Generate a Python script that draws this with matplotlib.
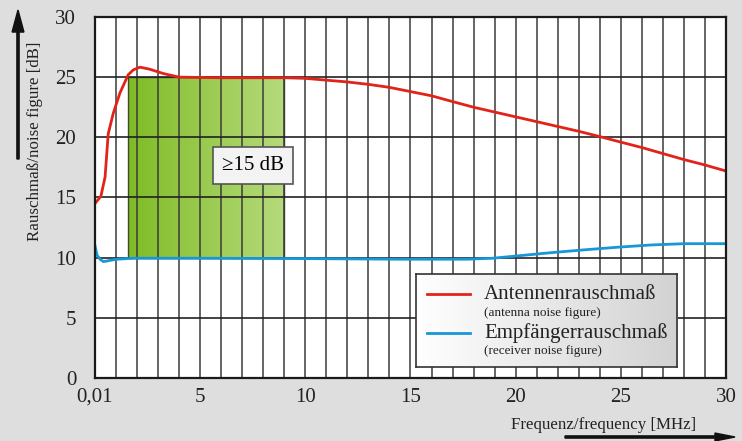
import numpy as np
import matplotlib
matplotlib.use('Agg')
import matplotlib.pyplot as plt
from matplotlib.colors import LinearSegmentedColormap
from matplotlib.patches import Rectangle

plt.rcParams['font.family'] = ['Liberation Serif', 'DejaVu Serif']

##### data
# antenna noise figure (red)
ant_f = [0, 0.28, 0.48, 0.63, 0.87, 1.19, 1.58, 1.82, 2.14, 2.6, 3.25, 4.0, 6, 8, 9, 10,
         11, 12, 13, 14, 15, 16, 17, 18, 19, 20, 21, 22, 23, 24, 25, 26, 27, 28, 29, 30]
ant_nf = [14.5, 15.1, 16.7, 20.3, 22.0, 23.7, 25.2, 25.6, 25.83, 25.66, 25.3, 25.0, 24.95, 24.95,
          24.95, 24.9, 24.75, 24.6, 24.4, 24.15, 23.8, 23.45, 22.97, 22.5, 22.1, 21.7, 21.3,
          20.9, 20.5, 20.06, 19.6, 19.15, 18.65, 18.15, 17.7, 17.2]

# receiver noise figure (blue)
rx_f = [0, 0.1, 0.24, 0.4, 1.03, 1.82, 5, 10, 14.5, 17.7, 18.9, 20.05, 21.6, 23.2, 24.8,
        26.4, 28.0, 30]
rx_nf = [11.0, 10.2, 9.87, 9.67, 9.87, 9.95, 9.95, 9.92, 9.87, 9.87, 9.95, 10.14, 10.4, 10.64,
         10.86, 11.05, 11.16, 11.16]

# margin region
band_f = [1.58, 9]
band_nf = [10, 25]
band_text = '\u226515 dB'

xticks = [0, 5, 10, 15, 20, 25, 30]
xticklabels = ['0,01', '5', '10', '15', '20', '25', '30']
yticks = [0, 5, 10, 15, 20, 25, 30]

legend_names = ['Antennenrauschmaß', 'Empfängerrauschmaß']
legend_sub = ['(antenna noise figure)', '(receiver noise figure)']
colors = ['#e2231a', '#1797d8']

bg = '#dedede'

##### plotting
fig = plt.figure(figsize=[7.42, 4.41], dpi=100, facecolor=bg)
ax = fig.add_axes([0.128, 0.1429, 0.8504, 0.8186])
ax.set_facecolor('white')

# green gradient block
green = LinearSegmentedColormap.from_list('g', ['#7fbc26', '#b6da7c'])
grad = np.linspace(0, 1, 256).reshape(1, -1)
ax.imshow(grad, cmap=green, aspect='auto', zorder=1,
          extent=[band_f[0], band_f[1], band_nf[0], band_nf[1]])
ax.add_patch(Rectangle((band_f[0], band_nf[0]), band_f[1] - band_f[0], band_nf[1] - band_nf[0],
                       fill=False, ec='#3d4a30', lw=1.0, zorder=2))

# grid
for xv in range(1, 30):
    ax.axvline(xv, color='#3a3a3a', lw=1.1, zorder=3)
for yv in range(5, 30, 5):
    ax.axhline(yv, color='#222222', lw=1.2, zorder=3)

ax.plot(ant_f, ant_nf, color=colors[0], lw=2, zorder=5, solid_joinstyle='round')
ax.plot(rx_f, rx_nf, color=colors[1], lw=2, zorder=5, solid_joinstyle='round')

ax.text(7.51, 17.65, band_text, fontsize=15, ha='center', va='center', zorder=6,
        bbox=dict(boxstyle='square,pad=0.45', fc='#f3f3f3', ec='#555555', lw=1.2))

ax.set_xlim(0, 30)
ax.set_ylim(0, 30)
ax.set_xticks(xticks)
ax.set_xticklabels(xticklabels)
ax.set_yticks(yticks)
ax.tick_params(length=0, labelsize=15, colors='#222222')
ax.tick_params(axis='x', pad=7)
ax.tick_params(axis='y', pad=13.5)
for s in ax.spines.values():
    s.set_linewidth(1.6)
    s.set_color('#1a1a1a')
    s.set_zorder(7)

# legend (drawn by hand)
lax = fig.add_axes([0.128 + 0.509 * 0.8504, 0.1429 + 0.031 * 0.8186,
                    (0.923 - 0.509) * 0.8504, (0.288 - 0.031) * 0.8186])
gray = LinearSegmentedColormap.from_list('w', ['#ffffff', '#d2d2d2'])
lax.imshow(grad, cmap=gray, aspect='auto', extent=[0, 1, 0, 1])
lax.set_xlim(0, 1)
lax.set_ylim(0, 1)
lax.set_xticks([])
lax.set_yticks([])
for s in lax.spines.values():
    s.set_linewidth(1.2)
    s.set_color('#333333')
rows_main = [0.78, 0.36]
rows_sub = [0.58, 0.17]
for i in range(2):
    lax.plot([0.04, 0.205], [rows_main[i], rows_main[i]], color=colors[i], lw=2)
    lax.text(0.26, rows_main[i], legend_names[i], fontsize=15, va='center', ha='left',
             color='#222222')
    lax.text(0.26, rows_sub[i], legend_sub[i], fontsize=9.5, va='center', ha='left',
             color='#222222')

# axis labels with arrows
fig.text(35 / 742, 1 - 141 / 441, 'Rauschmaß/noise figure [dB]', rotation=90, fontsize=12.2,
         ha='center', va='center', color='#222222')
fig.text(604 / 742, 1 - 425 / 441, 'Frequenz/frequency [MHz]', fontsize=12.2,
         ha='center', va='center', color='#222222')
fig.patches.append(matplotlib.patches.FancyArrow(
    18 / 742, 1 - 159 / 441, 0, (159 - 10) / 441, width=0.003, head_width=0.016,
    head_length=0.05, length_includes_head=True, color='#111111', transform=fig.transFigure))
fig.patches.append(matplotlib.patches.FancyArrow(
    565 / 742, 1 - 437 / 441, (735 - 565) / 742, 0, width=0.005, head_width=0.018,
    head_length=0.027, length_includes_head=True, color='#111111', transform=fig.transFigure))

plt.savefig('out.png', dpi=100, facecolor=bg)
